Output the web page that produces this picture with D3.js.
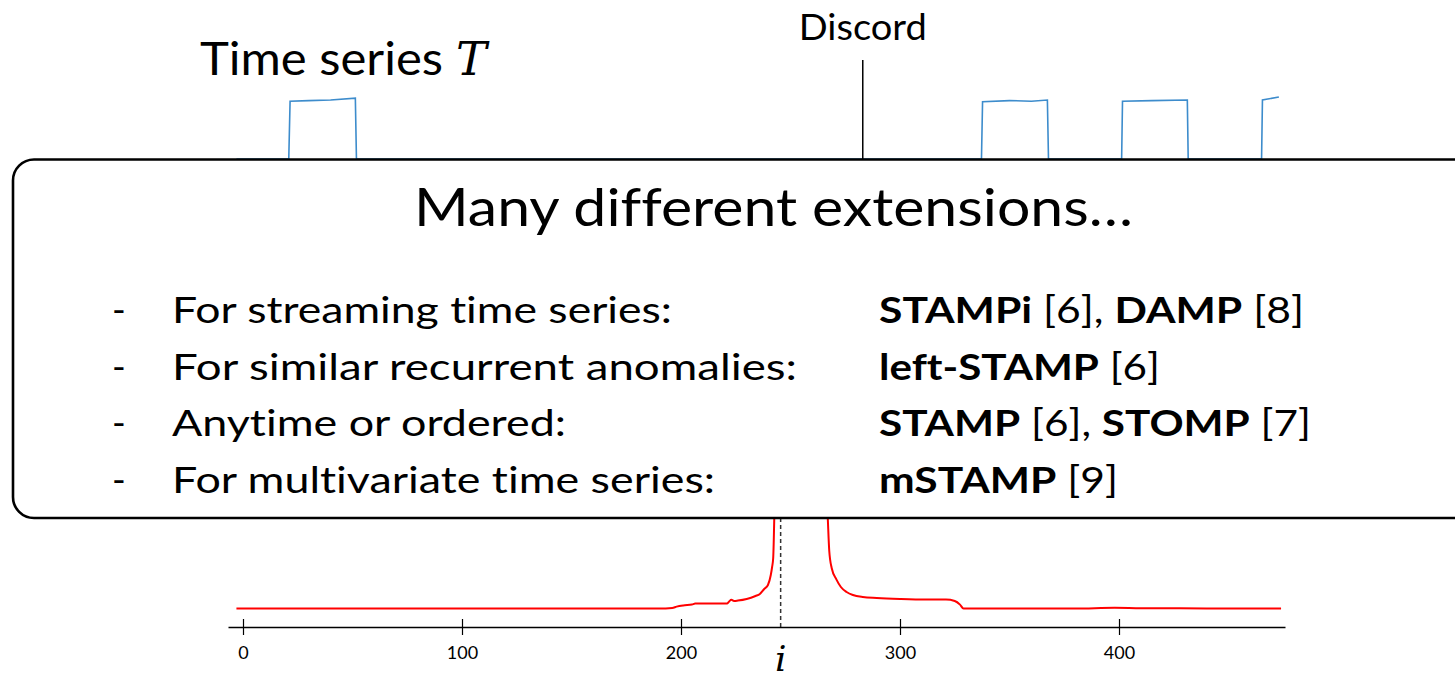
<!DOCTYPE html>
<html>
<head>
<meta charset="utf-8">
<script src="https://cdn.jsdelivr.net/npm/d3@7"></script>
<style>
  html, body { margin: 0; padding: 0; background: #fff; }
  svg { display: block; }
  text { font-variant-ligatures: none; font-feature-settings: "liga" 0; }
</style>
</head>
<body>
<svg id="chart" width="1455" height="679"></svg>
<script>
// ---------------- data ----------------
const tickValues = [0, 100, 200, 300, 400];

// time series T (blue), index and value
const seriesIdx = [-3, 20.9, 21.5, 30, 40, 51.3, 51.8,
                   337.2, 337.7, 350, 360, 367.3, 367.8,
                   401.2, 401.6, 415, 431.2, 431.6,
                   465.1, 465.5, 473];
const seriesVal = [0, 0, 0.98, 0.99, 1.0, 1.03, 0,
                   0, 0.97, 0.99, 0.98, 1.0, 0,
                   0, 0.98, 0.99, 1.0, 0,
                   0, 1.0, 1.05];

// matrix profile (red)
const profileIdx = [-3, 20, 50, 80, 120, 160, 190, 196, 198, 201, 205, 206.5, 215, 221,
                    222, 223, 224.2, 226, 230, 234, 236, 238, 239.7, 241, 241.6, 242.1, 242.6, 243,
                    250, 260, 266, 267, 267.7, 268.8, 271, 273, 275.6, 278.5, 283, 289.4,
                    300, 312, 321, 325, 327.4, 329, 340, 380, 398, 410, 440, 460, 474];
const profileVal = [0.93, 0.93, 0.925, 0.92, 0.925, 0.925, 0.925, 0.95, 1.02, 1.08, 1.12, 1.17, 1.17, 1.17,
                    1.28, 1.36, 1.30, 1.32, 1.40, 1.55, 1.65, 1.9, 2.1, 2.6, 3.0, 3.45, 5.5, 8,
                    12, 12, 8, 5.5, 3.8, 2.95, 2.37, 2.0, 1.75, 1.6, 1.5, 1.45,
                    1.4, 1.37, 1.37, 1.3, 1.12, 0.92, 0.92, 0.92, 0.96, 0.94, 0.93, 0.92, 0.93];

const discordIdx = 283;   // marker on the time series
const profileMinIdx = 245.5; // dashed marker on the profile

const titleText = "Time series";
const titleVar = "T";
const discordText = "Discord";
const boxTitle = "Many different extensions…";
const leftItems = [
  "For streaming time series:",
  "For similar recurrent anomalies:",
  "Anytime or ordered:",
  "For multivariate time series:"
];
const rightItems = [
  [["STAMPi", true], [" [6], ", false], ["DAMP", true], [" [8]", false]],
  [["left-STAMP", true], [" [6]", false]],
  [["STAMP", true], [" [6], ", false], ["STOMP", true], [" [7]", false]],
  [["mSTAMP", true], [" [9]", false]]
];
const axisLabel = "i";

// ---------------- layout ----------------
const svg = d3.select("#chart");
const FONT = "Lato, 'Open Sans', sans-serif";
const SERIF = "'DejaVu Serif', 'Liberation Serif', serif";

const x = d3.scaleLinear().domain([-6.85, 475.8]).range([228, 1285]);
const yTop = d3.scaleLinear().domain([0, 1]).range([159, 100]);
const yBot = d3.scaleLinear().domain([0, 5.5]).range([627, 517]);

// blue time series
const seriesData = seriesIdx.map((d, i) => [d, seriesVal[i]]);
svg.append("path")
  .datum(seriesData)
  .attr("fill", "none")
  .attr("stroke", "#3d8ccc")
  .attr("stroke-width", 1.6)
  .attr("d", d3.line().x(d => x(d[0])).y(d => yTop(d[1])));

// discord marker
svg.append("line")
  .attr("x1", x(discordIdx)).attr("x2", x(discordIdx))
  .attr("y1", 60).attr("y2", yTop(0))
  .attr("stroke", "#000").attr("stroke-width", 1.5);

svg.append("text")
  .attr("x", x(discordIdx) - 64).attr("y", 40)
  .attr("font-family", FONT).attr("font-size", 36)
  .attr("textLength", 128).attr("lengthAdjust", "spacingAndGlyphs")
  .text(discordText);

// title
svg.append("text")
  .attr("x", 200).attr("y", 75)
  .attr("font-family", FONT).attr("font-size", 46)
  .attr("textLength", 243).attr("lengthAdjust", "spacingAndGlyphs")
  .text(titleText);
svg.append("text")
  .attr("x", 456).attr("y", 75)
  .attr("font-family", SERIF).attr("font-style", "italic").attr("font-size", 46)
  .text(titleVar);

// red matrix profile
const profileData = profileIdx.map((d, i) => [d, profileVal[i]]);
svg.append("path")
  .datum(profileData)
  .attr("fill", "none")
  .attr("stroke", "#ff0000")
  .attr("stroke-width", 2)
  .attr("d", d3.line().curve(d3.curveMonotoneX).x(d => x(d[0])).y(d => yBot(d[1])));

// dashed marker
svg.append("line")
  .attr("x1", x(profileMinIdx)).attr("x2", x(profileMinIdx))
  .attr("y1", 518).attr("y2", yBot(0))
  .attr("stroke", "#333").attr("stroke-width", 1.5)
  .attr("stroke-dasharray", "4,3");

// axis
const axis = svg.append("g")
  .attr("transform", `translate(0,${yBot(0)})`)
  .call(d3.axisBottom(x).tickValues(tickValues).tickSizeInner(8).tickSizeOuter(0).tickPadding(11).tickFormat(d3.format("d")));
axis.select(".domain").attr("stroke", "#000").attr("stroke-width", 1.5);
axis.selectAll(".tick line").attr("y1", -8).attr("y2", 8).attr("stroke", "#000").attr("stroke-width", 1.2);
axis.selectAll(".tick text").attr("font-family", FONT).attr("font-size", 18).attr("fill", "#000");

svg.append("text")
  .attr("x", x(profileMinIdx)).attr("y", 671)
  .attr("text-anchor", "middle")
  .attr("font-family", SERIF).attr("font-style", "italic").attr("font-size", 36)
  .text(axisLabel);

// overlay box
svg.append("rect")
  .attr("x", 13).attr("y", 159.5)
  .attr("width", 1500).attr("height", 358.5)
  .attr("rx", 21).attr("ry", 21)
  .attr("fill", "#fff").attr("stroke", "#000").attr("stroke-width", 2.6);

svg.append("text")
  .attr("x", 414).attr("y", 226)
  .attr("font-family", FONT).attr("font-size", 52)
  .attr("textLength", 719).attr("lengthAdjust", "spacingAndGlyphs")
  .text(boxTitle);

const rowY = [323, 379.5, 436, 492.5];
const leftW = [500, 625, 394, 543];
const rightW = [425, 281, 432, 239];

leftItems.forEach((t, i) => {
  svg.append("text")
    .attr("x", 112).attr("y", rowY[i])
    .attr("font-family", FONT).attr("font-size", 37)
    .text("-");
  svg.append("text")
    .attr("x", 172).attr("y", rowY[i])
    .attr("font-family", FONT).attr("font-size", 37)
    .attr("textLength", leftW[i]).attr("lengthAdjust", "spacingAndGlyphs")
    .text(t);
});

rightItems.forEach((parts, i) => {
  const t = svg.append("text")
    .attr("x", 879).attr("y", rowY[i])
    .attr("font-family", FONT).attr("font-size", 37)
    .attr("textLength", rightW[i]).attr("lengthAdjust", "spacingAndGlyphs")
    .attr("xml:space", "preserve")
    .style("white-space", "pre");
  parts.forEach(p => {
    t.append("tspan").attr("font-weight", p[1] ? 700 : 400).text(p[0]);
  });
});
</script>
</body>
</html>
